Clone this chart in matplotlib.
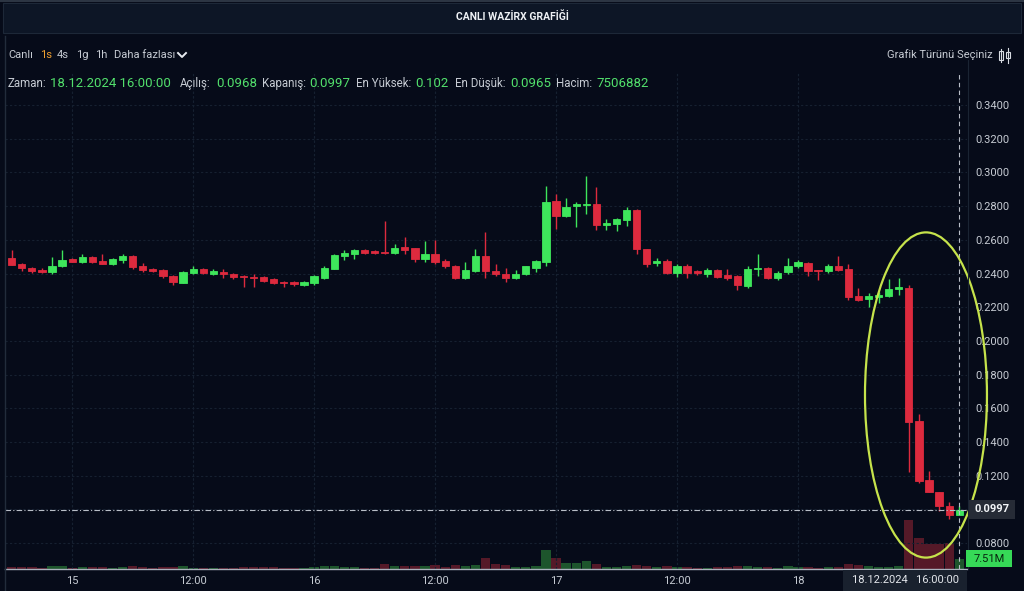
import matplotlib
matplotlib.use('Agg')
import matplotlib.pyplot as plt
import numpy as np
from matplotlib.patches import Ellipse, Rectangle
from matplotlib.lines import Line2D

plt.rcParams['font.family'] = ['Roboto', 'DejaVu Sans']

# ---------------- data (hourly candles, 14.12.2024 18:00 -> 18.12.2024 16:00) ----------------
opens = [0.2494, 0.2457, 0.2435, 0.2418, 0.2406, 0.2443, 0.2486, 0.2469, 0.2498, 0.2476,
         0.2455, 0.2478, 0.2506, 0.2443, 0.2429, 0.2420, 0.2386, 0.2345, 0.2404, 0.2429,
         0.2400, 0.2410, 0.2398, 0.2388, 0.2382, 0.2380, 0.2369, 0.2349, 0.2347, 0.2331,
         0.2345, 0.2376, 0.2429, 0.2504, 0.2514, 0.2541, 0.2531, 0.2529, 0.2524, 0.2555,
         0.2549, 0.2488, 0.2516, 0.2473, 0.2445, 0.2371, 0.2416, 0.2504, 0.2416, 0.2400,
         0.2371, 0.2396, 0.2435, 0.2469, 0.2831, 0.2743, 0.2800, 0.2808, 0.2812, 0.2690,
         0.2694, 0.2718, 0.2776, 0.2544, 0.2465, 0.2473, 0.2404, 0.2447, 0.2412, 0.2396,
         0.2418, 0.2394, 0.2386, 0.2325, 0.2424, 0.2435, 0.2376, 0.2406, 0.2443, 0.2465,
         0.2418, 0.2416, 0.2443, 0.2428, 0.2266, 0.2246, 0.2262, 0.2266, 0.2309, 0.2316,
         0.1526, 0.1175, 0.1105, 0.1020, 0.0968]
highs = [0.2541, 0.2461, 0.2441, 0.2431, 0.2498, 0.2541, 0.2494, 0.2514, 0.2502, 0.2514,
         0.2490, 0.2518, 0.2510, 0.2465, 0.2435, 0.2429, 0.2394, 0.2414, 0.2443, 0.2433,
         0.2424, 0.2427, 0.2402, 0.2390, 0.2400, 0.2388, 0.2373, 0.2357, 0.2357, 0.2355,
         0.2394, 0.2443, 0.2518, 0.2541, 0.2545, 0.2545, 0.2537, 0.2714, 0.2576, 0.2616,
         0.2553, 0.2592, 0.2600, 0.2486, 0.2449, 0.2469, 0.2547, 0.2645, 0.2455, 0.2433,
         0.2420, 0.2447, 0.2478, 0.2920, 0.2871, 0.2847, 0.2822, 0.2978, 0.2914, 0.2724,
         0.2729, 0.2792, 0.2784, 0.2548, 0.2494, 0.2484, 0.2457, 0.2459, 0.2420, 0.2430,
         0.2424, 0.2424, 0.2390, 0.2447, 0.2514, 0.2439, 0.2416, 0.2494, 0.2480, 0.2470,
         0.2420, 0.2455, 0.2502, 0.2459, 0.2311, 0.2286, 0.2288, 0.2365, 0.2374, 0.2332,
         0.1566, 0.1230, 0.1105, 0.1046, 0.1020]
lows = [0.2449, 0.2412, 0.2404, 0.2402, 0.2400, 0.2437, 0.2467, 0.2465, 0.2465, 0.2455,
        0.2451, 0.2465, 0.2424, 0.2408, 0.2408, 0.2376, 0.2331, 0.2341, 0.2396, 0.2400,
        0.2390, 0.2376, 0.2369, 0.2322, 0.2318, 0.2351, 0.2335, 0.2322, 0.2325, 0.2327,
        0.2331, 0.2369, 0.2424, 0.2482, 0.2488, 0.2518, 0.2518, 0.2516, 0.2514, 0.2514,
        0.2467, 0.2469, 0.2455, 0.2435, 0.2369, 0.2367, 0.2408, 0.2376, 0.2384, 0.2351,
        0.2365, 0.2392, 0.2408, 0.2443, 0.2665, 0.2733, 0.2678, 0.2753, 0.2659, 0.2659,
        0.2655, 0.2680, 0.2518, 0.2437, 0.2447, 0.2400, 0.2380, 0.2376, 0.2390, 0.2380,
        0.2376, 0.2360, 0.2301, 0.2313, 0.2388, 0.2370, 0.2364, 0.2400, 0.2435, 0.2386,
        0.2364, 0.2404, 0.2416, 0.2242, 0.2238, 0.2203, 0.2222, 0.2262, 0.2274, 0.1224,
        0.1158, 0.1101, 0.0992, 0.0941, 0.0965]
closes = [0.2453, 0.2431, 0.2412, 0.2406, 0.2443, 0.2482, 0.2471, 0.2498, 0.2469, 0.2459,
          0.2484, 0.2504, 0.2439, 0.2420, 0.2416, 0.2384, 0.2347, 0.2408, 0.2429, 0.2404,
          0.2414, 0.2396, 0.2382, 0.2380, 0.2375, 0.2357, 0.2341, 0.2341, 0.2337, 0.2351,
          0.2384, 0.2435, 0.2512, 0.2524, 0.2541, 0.2524, 0.2522, 0.2520, 0.2553, 0.2537,
          0.2488, 0.2516, 0.2471, 0.2443, 0.2373, 0.2420, 0.2504, 0.2414, 0.2400, 0.2376,
          0.2398, 0.2443, 0.2475, 0.2827, 0.2743, 0.2792, 0.2814, 0.2814, 0.2690, 0.2702,
          0.2722, 0.2776, 0.2547, 0.2459, 0.2475, 0.2404, 0.2447, 0.2404, 0.2402, 0.2418,
          0.2382, 0.2376, 0.2329, 0.2424, 0.2435, 0.2376, 0.2404, 0.2447, 0.2469, 0.2416,
          0.2414, 0.2443, 0.2420, 0.2258, 0.2242, 0.2266, 0.2270, 0.2307, 0.2321, 0.1517,
          0.1170, 0.1101, 0.1020, 0.0965, 0.0997]
volumes_m = [1.5, 1.6, 1.2, 0.9, 2.5, 2.0, 1.0, 1.2, 1.4, 1.8,
             1.0, 1.3, 2.2, 1.6, 0.8, 1.4, 1.8, 2.4, 1.1, 0.9,
             0.8, 1.0, 1.0, 1.6, 1.4, 1.2, 1.3, 0.7, 0.8, 0.9,
             1.6, 2.1, 2.6, 1.5, 1.3, 1.0, 0.9, 3.8, 1.9, 2.0,
             2.2, 2.6, 3.0, 1.5, 2.8, 2.4, 3.2, 8.2, 3.5, 3.0,
             1.6, 1.8, 2.2, 14.0, 8.0, 4.5, 4.2, 6.0, 3.8, 1.5,
             1.4, 2.0, 3.2, 2.5, 1.2, 2.0, 1.8, 1.6, 0.8, 1.0,
             1.3, 1.2, 2.0, 2.4, 1.6, 1.4, 1.0, 2.0, 1.4, 1.3,
             0.9, 1.2, 1.5, 3.5, 3.0, 2.2, 1.5, 1.8, 2.0, 37.0,
             23.0, 18.5, 19.0, 19.5, 7.51]
x_tick_idx = [6, 18, 30, 42, 54, 66, 78]
x_tick_labels = ['15', '12:00', '16', '12:00', '17', '12:00', '18']
y_ticks = [0.08, 0.10, 0.12, 0.14, 0.16, 0.18, 0.20, 0.22, 0.24, 0.26, 0.28, 0.30, 0.32, 0.34]
last_close = 0.0997
last_volume_label = '7.51M'
cross_label = '18.12.2024   16:00:00'

info = [('Zaman:', 'lab'), ('18.12.2024 16:00:00', 'val'), ('Açılış:', 'lab'), ('0.0968', 'val'),
        ('Kapanış:', 'lab'), ('0.0997', 'val'), ('En Yüksek:', 'lab'), ('0.102', 'val'),
        ('En Düşük:', 'lab'), ('0.0965', 'val'), ('Hacim:', 'lab'), ('7506882', 'val')]
info_x = [8, 50, 180, 216, 262, 309, 356, 415, 455, 510, 556, 596]

# ---------------- styling ----------------
W, H = 1024, 591
BG = '#060b19'
GREEN = '#3ee65b'
RED = '#dd2a3e'
VGREEN = '#1f5a2e'
VRED = '#5a1a29'
GRID = '#162030'
TXT = '#c6cbd3'

fig = plt.figure(figsize=(W / 100, H / 100), dpi=100, facecolor=BG)

def fx(px):
    return px / W

def fy(py):
    return 1 - py / H

# frame / title band
fig.add_artist(Rectangle((fx(3), fy(33)), fx(1018), 30 / H, transform=fig.transFigure,
                         facecolor='#0d1626', edgecolor='#1d2838', lw=0.8))
fig.add_artist(Line2D([0, 1], [fy(1), fy(1)], transform=fig.transFigure, color='#2c3543', lw=1.5))
fig.add_artist(Line2D([fx(4.5), fx(4.5)], [fy(36), 0], transform=fig.transFigure, color='#222c3b', lw=1))
fig.text(0.5, fy(17), 'CANLI WAZİRX GRAFİĞİ', ha='center', va='center', color='#eef1f5',
         fontsize=7.5, fontweight='bold')

# axes
top_px, bot_px, left_px, right_px = 72, 569, 5, 967
pos = [fx(left_px), fy(bot_px), (right_px - left_px) / W, (bot_px - top_px) / H]
axv = fig.add_axes(pos)
ax = fig.add_axes(pos, sharex=axv)
ax.set_facecolor('none')
axv.set_facecolor(BG)

n = len(opens)
x = np.arange(n)
o = np.array(opens); h = np.array(highs); l = np.array(lows); c = np.array(closes)
up = c >= o
cols = np.where(up, GREEN, RED)

# price scale: 0.34 at y=105px, 33.7 px per 0.02
ppx = 0.02 / 33.7
ax.set_ylim(0.34 - (bot_px - 105) * ppx, 0.34 + (105 - top_px) * ppx)
ax.set_xlim(-0.665, 94.77)

# volume
vol = np.array(volumes_m) * 1e6
axv.set_ylim(0, (bot_px - top_px) * 0.751e6)
axv.bar(x, vol, width=0.92, color=np.where(up, VGREEN, VRED), alpha=0.95, zorder=1)
axv.set_yticks([])
for s in axv.spines.values():
    s.set_visible(False)
axv.tick_params(axis='x', length=0, labelbottom=False)

# candles
ax.vlines(x, l, h, colors=cols, lw=1.0, zorder=3)
ax.bar(x, np.abs(c - o), bottom=np.minimum(o, c), width=0.72, color=cols,
       edgecolor=cols, lw=0.6, zorder=4)

# grid & ticks
ax.set_yticks(y_ticks)
ax.set_yticklabels([f'{v:.4f}' for v in y_ticks])
ax.yaxis.tick_right()
ax.tick_params(axis='y', length=0, pad=6, labelsize=8, labelcolor=TXT)
ax.set_xticks(x_tick_idx)
ax.set_xticklabels(x_tick_labels)
ax.tick_params(axis='x', length=0, pad=5, labelsize=8, labelcolor=TXT)
ax.grid(True, color=GRID, lw=0.8, ls=(0, (2, 2)))
ax.set_axisbelow(True)
axv.set_xticks(x_tick_idx)
axv.grid(True, axis='x', color=GRID, lw=0.8, ls=(0, (2, 2)))
for k, s in ax.spines.items():
    s.set_visible(False)
ax.spines['bottom'].set_visible(True)
ax.spines['bottom'].set_color('#aab2bd')
ax.spines['bottom'].set_linewidth(1.0)
fig.add_artist(Line2D([fx(967.5), fx(967.5)], [fy(bot_px), fy(60)], transform=fig.transFigure,
                      color='#1a2433', lw=0.8))

# crosshair
ax.axhline(last_close, color='#b9bec7', lw=0.8, ls=(0, (5, 2, 1, 2)), zorder=5)
ax.axvline(x[-1], color='#b9bec7', lw=0.8, ls=(0, (4, 3)), zorder=5)

# highlight ellipse
ell = Ellipse((90.7, 0.1679), width=12.1, height=0.193, fill=False, edgecolor='#c6e34b',
              lw=1.6, zorder=6, clip_on=False)
ax.add_patch(ell)

# price / volume / time labels
fig.add_artist(Rectangle((fx(969), fy(519)), 46 / W, 19 / H, transform=fig.transFigure,
                         facecolor='#262b36', edgecolor='none', zorder=10))
fig.text(fx(992), fy(509.5), f'{last_close:.4f}', ha='center', va='center', color='#f2f4f7',
         fontsize=8, fontweight='bold', zorder=11)
fig.add_artist(Rectangle((fx(966), fy(567)), 46 / W, 17 / H, transform=fig.transFigure,
                         facecolor='#36d957', edgecolor='none', zorder=10))
fig.text(fx(989), fy(558.5), last_volume_label, ha='center', va='center', color='#07240e',
         fontsize=8, zorder=11)
fig.add_artist(Rectangle((fx(843), 0), 124 / W, 21 / H, transform=fig.transFigure,
                         facecolor='#19212e', edgecolor='none', zorder=10))
fig.text(fx(905), fy(580), cross_label, ha='center', va='center', color='#e4e7ec',
         fontsize=8, zorder=11)

# toolbar
tb_y = fy(55)
fig.text(fx(8), tb_y, 'Canlı', ha='left', va='center', color=TXT, fontsize=8)
fig.text(fx(40), tb_y, '1s', ha='left', va='center', color='#f0a030', fontsize=8)
fig.text(fx(57), tb_y, '4s', ha='left', va='center', color=TXT, fontsize=8)
fig.text(fx(76), tb_y, '1g', ha='left', va='center', color=TXT, fontsize=8)
fig.text(fx(95), tb_y, '1h', ha='left', va='center', color=TXT, fontsize=8)
fig.text(fx(114), tb_y, 'Daha fazlası', ha='left', va='center', color=TXT, fontsize=8)
fig.add_artist(Line2D([fx(178), fx(182), fx(186)], [fy(53), fy(57), fy(53)], transform=fig.transFigure,
                      color='#e8ebf0', lw=1.4))
fig.text(fx(993), tb_y, 'Grafik Türünü Seçiniz', ha='right', va='center', color=TXT, fontsize=8)
# candle icon
for cx, y0, y1, w0, w1 in [(1001, 49, 62, 51, 60), (1008, 48, 63, 52, 58)]:
    fig.add_artist(Line2D([fx(cx), fx(cx)], [fy(y0), fy(y1)], transform=fig.transFigure, color='#d8dce2', lw=0.8))
    fig.add_artist(Rectangle((fx(cx - 2), fy(w1)), 4 / W, (w1 - w0) / H, transform=fig.transFigure,
                             facecolor='none', edgecolor='#d8dce2', lw=0.8))

# info line
for (txt, kind), px in zip(info, info_x):
    if kind == 'lab':
        fig.text(fx(px), fy(83.5), txt, ha='left', va='center', color=TXT, fontsize=8.3)
    else:
        fig.text(fx(px), fy(83.5), txt, ha='left', va='center', color='#52e06c', fontsize=9.5)

fig.savefig('out.png', dpi=100, facecolor=BG)
